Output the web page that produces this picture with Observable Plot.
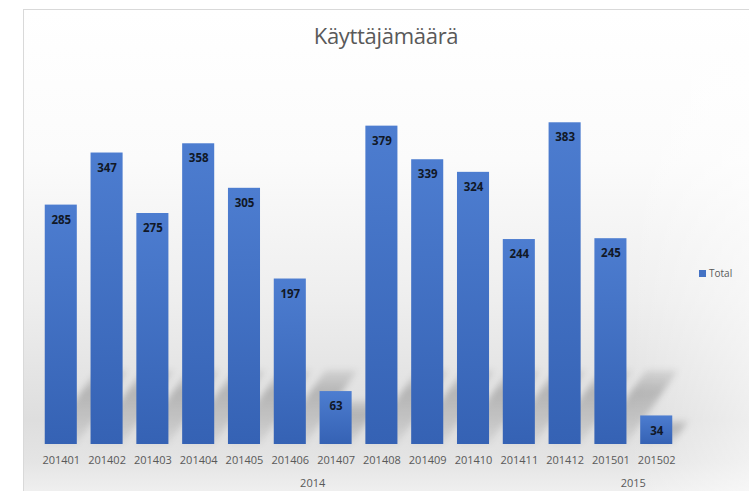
<!DOCTYPE html>
<html>
<head>
<meta charset="utf-8">
<script src="https://cdn.jsdelivr.net/npm/d3@7"></script>
<script src="https://cdn.jsdelivr.net/npm/@observablehq/plot@0.6"></script>
<style>
  html, body { margin: 0; padding: 0; background: #fff; }
  #wrap { position: relative; width: 749px; height: 491px; overflow: hidden; }
  #frame {
    position: absolute; left: 23px; top: 9px; width: 740px; height: 500px;
    border: 1px solid #d9d9d9;
    background: linear-gradient(to bottom, #ffffff 0%, #fbfbfb 30%, #eeeeee 58%, #dedede 82%, #e4e4e4 90%, #f6f6f6 100%);
  }
  #frame::after {
    content: ""; position: absolute; inset: 0;
    background: linear-gradient(to right, rgba(255,255,255,0) 0%, rgba(255,255,255,0) 82%, rgba(255,255,255,0.55) 100%);
  }
  #title {
    position: absolute; left: 23px; width: 726px; top: 20px; text-align: center;
    font-family: "Open Sans", sans-serif; font-size: 22px; color: #595959; letter-spacing: -0.3px;
  }
  #legend {
    position: absolute; left: 699px; top: 266px; font-family: "Open Sans", sans-serif;
    font-size: 10px; color: #595959; display: flex; align-items: center;
  }
  #legend span.sw { display: inline-block; width: 7px; height: 7px; background: #4472c4; margin-right: 3px; }
  #chart { position: absolute; left: 0; top: 0; }
</style>
</head>
<body>
<div id="wrap">
  <div id="frame"></div>
  <div id="title">Käyttäjämäärä</div>
  <div id="legend"><span class="sw"></span>Total</div>
  <div id="chart"></div>
</div>
<script>
const months = ["201401","201402","201403","201404","201405","201406","201407","201408","201409","201410","201411","201412","201501","201502"];
const values = [285, 347, 275, 358, 305, 197, 63, 379, 339, 324, 244, 383, 245, 34];
const years = ["2014", "2015"];

const data = months.map((m, i) => ({month: m, value: values[i], year: m.slice(0, 4)}));

const plot = Plot.plot({
  width: 749,
  height: 491,
  marginTop: 66,
  marginBottom: 47,
  marginLeft: 31,
  marginRight: 63,
  style: {background: "transparent", fontFamily: "Open Sans, sans-serif"},
  x: {domain: months, padding: 0.3, round: false, label: null},
  y: {domain: [0, 450], axis: null},
  marks: [
    Plot.barY(data, {x: "month", y: "value", fill: "url(#barGrad)"}),
    Plot.text(data, {x: "month", y: "value", text: d => String(d.value), dy: 15, fill: "#111827", fontWeight: "bold", fontSize: 11.5}),
    Plot.axisX({tickSize: 0, tickPadding: 12, fontSize: 11, color: "#595959", label: null})
  ]
});

const svg = d3.select(plot);
const defs = svg.insert("defs", ":first-child");
const g = defs.append("linearGradient").attr("id", "barGrad").attr("x1", 0).attr("y1", 0).attr("x2", 0).attr("y2", 1);
g.append("stop").attr("offset", "0%").attr("stop-color", "#4d7dd0");
g.append("stop").attr("offset", "100%").attr("stop-color", "#3562b4");
const blur = defs.append("filter").attr("id", "shBlur").attr("x", "-50%").attr("y", "-50%").attr("width", "200%").attr("height", "200%");
blur.append("feGaussianBlur").attr("stdDeviation", 3);
const sg = defs.append("linearGradient").attr("id", "shGrad").attr("x1", 0).attr("y1", 1).attr("x2", 0).attr("y2", 0);
sg.append("stop").attr("offset", "0%").attr("stop-color", "#000").attr("stop-opacity", 0.05);
sg.append("stop").attr("offset", "70%").attr("stop-color", "#000").attr("stop-opacity", 0.2);
sg.append("stop").attr("offset", "100%").attr("stop-color", "#000").attr("stop-opacity", 0.08);

const xs = plot.scale("x");
const ys = plot.scale("y");
const bw = xs.bandwidth;
const y0 = ys.apply(0);

// Perspective shadows behind bars (from the scales)
const shadowG = svg.insert("g", "g[aria-label='bar']").attr("filter", "url(#shBlur)");
data.forEach(d => {
  const x0 = xs.apply(d.month);
  const h = Math.min(y0 - ys.apply(d.value), 90) * 0.82;
  const dx = h * 0.7;
  shadowG.append("path")
    .attr("d", `M${x0},${y0}L${x0 + bw},${y0}L${x0 + bw + dx},${y0 - h}L${x0 + dx},${y0 - h}Z`)
    .attr("fill", "url(#shGrad)");
});

// Year group labels positioned from the x scale
const yl = svg.append("g").attr("font-size", 11).attr("fill", "#595959").attr("text-anchor", "middle");
years.forEach(yr => {
  const ms = months.filter(m => m.startsWith(yr));
  const xa = xs.apply(ms[0]) + bw / 2;
  const xb = xs.apply(ms[ms.length - 1]) + bw / 2;
  yl.append("text").attr("x", (xa + xb) / 2).attr("y", 487).text(yr);
});

document.getElementById("chart").appendChild(plot);
</script>
</body>
</html>
